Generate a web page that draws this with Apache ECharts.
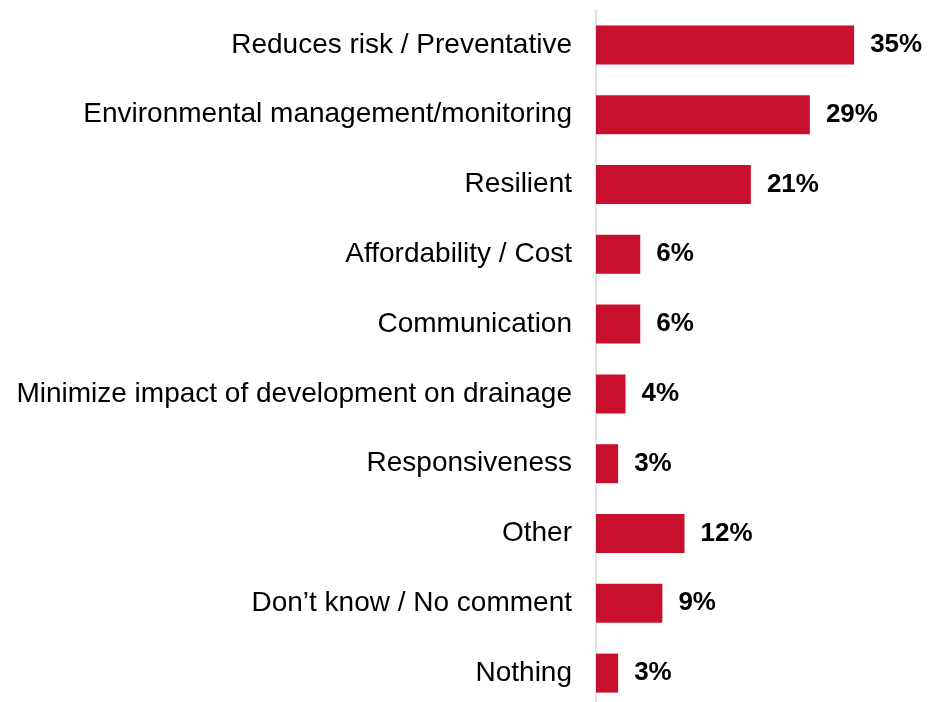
<!DOCTYPE html>
<html>
<head>
<meta charset="utf-8">
<script src="https://cdn.jsdelivr.net/npm/echarts@6/dist/echarts.min.js"></script>
<style>
  html, body { margin: 0; padding: 0; background: #fff; }
  #chart { width: 940px; height: 702px; }
</style>
</head>
<body>
<div id="chart"></div>
<script>
// categories, top to bottom
const categories = [
    "Reduces risk / Preventative",
    "Environmental management/monitoring",
    "Resilient",
    "Affordability / Cost",
    "Communication",
    "Minimize impact of development on drainage",
    "Responsiveness",
    "Other",
    "Don\u2019t know / No comment",
    "Nothing"
]
const values = [35, 29, 21, 6, 6, 4, 3, 12, 9, 3]

const barColor = "#C8102E"
const fontFamily = "'Liberation Sans', Arial, sans-serif"

const chart = echarts.init(document.getElementById("chart"))

chart.setOption({
    animation: false,
    grid: {
        left: 596,
        right: 49,
        top: 10,
        bottom: -6,
        containLabel: false,
        outerBoundsMode: "none"
    },
    xAxis: {
        type: "value",
        min: 0,
        max: 40,
        show: false
    },
    yAxis: {
        type: "category",
        inverse: true,
        data: categories,
        axisTick: { show: false },
        axisLine: {
            show: true,
            lineStyle: { color: "#d9d9d9", width: 1.5 }
        },
        axisLabel: {
            color: "#000",
            fontSize: 28,
            fontFamily: fontFamily,
            margin: 24
        },
        splitLine: { show: false }
    },
    series: [{
        type: "bar",
        data: values,
        barWidth: 39,
        itemStyle: { color: barColor },
        label: {
            show: true,
            position: "right",
            distance: 16,
            formatter: "{c}%",
            color: "#000",
            fontSize: 26,
            fontWeight: "bold",
            fontFamily: fontFamily
        }
    }]
})
</script>
</body>
</html>
